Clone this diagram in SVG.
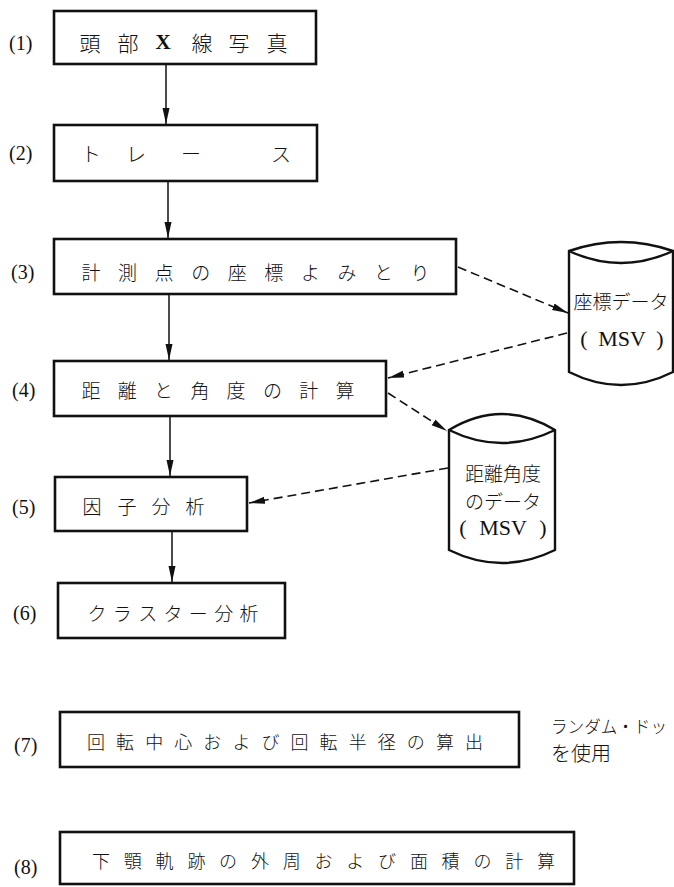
<svg xmlns="http://www.w3.org/2000/svg" width="674" height="887" viewBox="0 0 674 887">
<style>
  .box{fill:#fff;stroke:#111;stroke-width:2.6}
  .cyl{fill:#fff;stroke:#111;stroke-width:2.4}
  .solid{fill:none;stroke:#111;stroke-width:1.5}
  .dash{fill:none;stroke:#111;stroke-width:1.6;stroke-dasharray:9 5}
  .jp{font-family:"Noto Sans CJK JP","Noto Sans CJK SC",sans-serif;font-weight:300;fill:#111;text-anchor:middle;dominant-baseline:central}
  .num{font-family:"Liberation Serif",serif;font-size:20px;fill:#111;dominant-baseline:central}
  .latb{font-family:"Liberation Serif",serif;font-weight:bold}
  .lat{font-family:"Liberation Serif",serif;font-weight:normal;fill:#111;text-anchor:middle;dominant-baseline:central}
</style>
<defs>
  <marker id="ah" markerUnits="userSpaceOnUse" markerWidth="17" markerHeight="8" refX="16" refY="4" orient="auto">
    <path d="M0,0.5 L16,4 L0,7.5 z" fill="#111"/>
  </marker>
</defs>
<rect width="674" height="887" fill="#fff"/>

<g id="connectors">
  <line class="solid" x1="166" y1="64" x2="166" y2="124" marker-end="url(#ah)"/>
  <line class="solid" x1="168" y1="181" x2="168" y2="238" marker-end="url(#ah)"/>
  <line class="solid" x1="169" y1="294" x2="169" y2="360" marker-end="url(#ah)"/>
  <line class="solid" x1="170" y1="416" x2="170" y2="476" marker-end="url(#ah)"/>
  <line class="solid" x1="172" y1="531" x2="172" y2="582" marker-end="url(#ah)"/>
  <line class="dash" x1="458" y1="267" x2="568" y2="313" marker-end="url(#ah)"/>
  <line class="dash" x1="567" y1="333" x2="388" y2="378" marker-end="url(#ah)"/>
  <line class="dash" x1="388" y1="393" x2="447" y2="431" marker-end="url(#ah)"/>
  <line class="dash" x1="448" y1="468" x2="249" y2="503" marker-end="url(#ah)"/>
</g>

<g id="n1">
  <rect class="box" x="54" y="11" width="262" height="53"/>
  <text class="num" x="9" y="43">(1)</text>
  <text class="jp" font-size="21" y="42" x="90 128 163 202 239 277">頭部<tspan class="latb">X</tspan>線写真</text>
</g>
<g id="n2">
  <rect class="box" x="54" y="125" width="263" height="56"/>
  <text class="num" x="9" y="153">(2)</text>
  <text class="jp" font-size="20" y="153" x="91 136 191 281">トレース</text>
</g>
<g id="n3">
  <rect class="box" x="54" y="239" width="402" height="55"/>
  <text class="num" x="11" y="272">(3)</text>
  <text class="jp" font-size="19" y="271" x="91 127.6 164.1 200.7 237.2 273.8 310.4 346.9 383.5 420">計測点の座標よみとり</text>
</g>
<g id="n4">
  <rect class="box" x="54" y="361" width="332" height="55"/>
  <text class="num" x="12" y="390">(4)</text>
  <text class="jp" font-size="19" y="389" x="91 127.3 163.6 199.9 236.1 272.4 308.7 345">距離と角度の計算</text>
</g>
<g id="n5">
  <rect class="box" x="55" y="477" width="192" height="54"/>
  <text class="num" x="12" y="507">(5)</text>
  <text class="jp" font-size="19" y="505" x="92 127 161 195">因子分析</text>
</g>
<g id="n6">
  <rect class="box" x="58" y="583" width="227" height="55"/>
  <text class="num" x="13" y="613">(6)</text>
  <text class="jp" font-size="19" y="612" x="97 122.3 147.7 173 198.3 223.7 249">クラスター分析</text>
</g>
<g id="n7">
  <rect class="box" x="60" y="712" width="459" height="55"/>
  <text class="num" x="14" y="745">(7)</text>
  <text class="jp" font-size="18" y="741" x="96 125.1 154.2 183.2 212.3 241.4 270.5 299.5 328.6 357.7 386.8 415.8 444.9 474">回転中心および回転半径の算出</text>
</g>
<g id="n8">
  <rect class="box" x="60" y="832" width="514" height="52"/>
  <text class="num" x="14" y="867">(8)</text>
  <text class="jp" font-size="18" y="860" x="101 132.8 164.6 196.4 228.1 259.9 291.7 323.5 355.3 387.1 418.9 450.6 482.4 514.2 546">下顎軌跡の外周および面積の計算</text>
</g>

<g id="db1">
  <path class="cyl" d="M569,251 Q621,233 673,251 L673,372 Q621,398 569,372 Z"/>
  <path class="cyl" d="M569,251 Q621,275 673,251"/>
  <text class="jp" font-size="19" x="621" y="300">座標データ</text>
  <text class="lat" font-size="22" y="338"><tspan x="584">(</tspan><tspan x="622">MSV</tspan><tspan x="660">)</tspan></text>
</g>
<g id="db2">
  <path class="cyl" d="M449,430 Q502,398 555,430 L555,550 Q502,576 449,550 Z"/>
  <path class="cyl" d="M449,430 Q502,456 555,430"/>
  <text class="jp" font-size="19" x="503" y="472">距離角度</text>
  <text class="jp" font-size="19" x="503" y="500">のデータ</text>
  <text class="lat" font-size="22" y="527"><tspan x="463">(</tspan><tspan x="503">MSV</tspan><tspan x="543">)</tspan></text>
</g>

<g id="note">
  <text class="jp" font-size="17" x="551" y="725" style="text-anchor:start" textLength="116" lengthAdjust="spacingAndGlyphs">ランダム・ドッ</text>
  <text class="jp" font-size="20" x="551" y="752" style="text-anchor:start">を使用</text>
</g>
</svg>
